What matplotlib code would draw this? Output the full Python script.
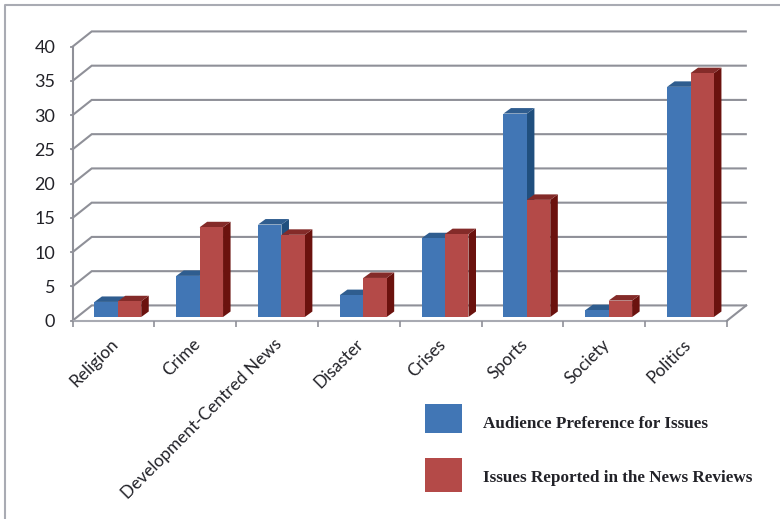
import numpy as np
import matplotlib
matplotlib.use('Agg')
import matplotlib.pyplot as plt
from matplotlib.patches import Polygon, Rectangle
from matplotlib.lines import Line2D

categories = ['Religion', 'Crime', 'Development-Centred News', 'Disaster',
              'Crises', 'Sports', 'Society', 'Politics']
audience = [2.2, 6.0, 13.5, 3.2, 11.5, 29.7, 1.0, 33.6]
reported = [2.3, 13.1, 12.0, 5.7, 12.1, 17.1, 2.4, 35.6]
series_names = ['Audience Preference for Issues',
                'Issues Reported in the News Reviews']
yticks = [0, 5, 10, 15, 20, 25, 30, 35, 40]

W, H = 780, 519
GRID = '#8f9098'
TEXT = '#222228'

fig = plt.figure(figsize=(W / 100, H / 100), dpi=100)
left, right, y0, y40 = 72.5, 727.0, 320.7, 46.7
ax = fig.add_axes([left / W, 1 - y0 / H, (right - left) / W, (y0 - y40) / H])
ax.set_xlim(0, len(categories))
ax.set_ylim(0, 40)
ax.patch.set_visible(False)
for s in ax.spines.values():
    s.set_visible(False)

# depth of the floor and of the bars, in data units
wall_dx, wall_dy = 0.235, 2.23
bar_dx, bar_dy = 0.092, 0.80
bar_w = 0.286
bar_start = 0.268
floor_y = 0.54

# back wall and left wall
for v in yticks:
    ax.plot([0, wall_dx, len(categories) + wall_dx - 0.005],
            [v, v + wall_dy, v + wall_dy], color=GRID, lw=1.5,
            clip_on=False, zorder=1, solid_joinstyle='miter')
ax.plot([0, 0], [0, 40], color=GRID, lw=1.5, clip_on=False, zorder=1)
ax.plot([0, len(categories)], [0, 0], color='#a8aab2', lw=1.5, clip_on=False, zorder=1)
ax.plot([len(categories), len(categories) + wall_dx], [0, wall_dy],
        color=GRID, lw=1.5, clip_on=False, zorder=1)


def draw_bar(x, value, front, top, side):
    y = floor_y + value
    ax.add_patch(Polygon([(x + bar_w, floor_y), (x + bar_w + bar_dx, floor_y + bar_dy),
                          (x + bar_w + bar_dx, y + bar_dy), (x + bar_w, y)],
                         fc=side, ec='none', zorder=3, clip_on=False))
    ax.add_patch(Polygon([(x, y), (x + bar_dx, y + bar_dy),
                          (x + bar_w + bar_dx, y + bar_dy), (x + bar_w, y)],
                         fc=top, ec='none', zorder=3, clip_on=False))
    ax.bar(x, value, bar_w, bottom=floor_y, align='edge', color=front,
           edgecolor='none', zorder=3, clip_on=False)


for i in range(len(categories)):
    draw_bar(i + bar_start, audience[i], '#4176b5', '#2f5d8f', '#204f7e')
    draw_bar(i + bar_start + bar_w, reported[i], '#b44a48', '#842b29', '#6b120e')

ax.set_yticks(yticks)
ax.tick_params(axis='y', length=2.5, width=1.2, color=GRID, pad=10,
               labelsize=13, labelcolor=TEXT, labelfontfamily='Lato')
ax.set_xticks(range(len(categories) + 1))
ax.set_xticklabels([])
ax.tick_params(axis='x', which='major', length=4, width=1.2, color=GRID)
ax.set_xticks(np.arange(len(categories)) + 0.46, minor=True)
ax.set_xticklabels(categories, minor=True, rotation=45, ha='right',
                   rotation_mode='anchor', fontsize=12.4, color=TEXT, family='Lato')
ax.tick_params(axis='x', which='minor', length=0, pad=11)

# legend, placed by hand under the plot
swatches = [(404, 433, '#4176b5', 423.5), (458, 492, '#b44a48', 477.5)]
for (top, bottom, col, ty), name in zip(swatches, series_names):
    fig.add_artist(Rectangle((425 / W, 1 - bottom / H), 37 / W, (bottom - top) / H,
                             transform=fig.transFigure, fc=col, ec='none'))
    fig.text(483 / W, 1 - ty / H, name, family='Liberation Serif', weight='bold',
             fontsize=12.3, color=TEXT, va='center', ha='left')

# outer frame, only top and left show
fig.add_artist(Line2D([5 / W, 5 / W, 1], [0, 1 - 5 / H, 1 - 5 / H],
                      transform=fig.transFigure, color='#a9abb3', lw=1.5))

fig.savefig('out.png', dpi=100)
